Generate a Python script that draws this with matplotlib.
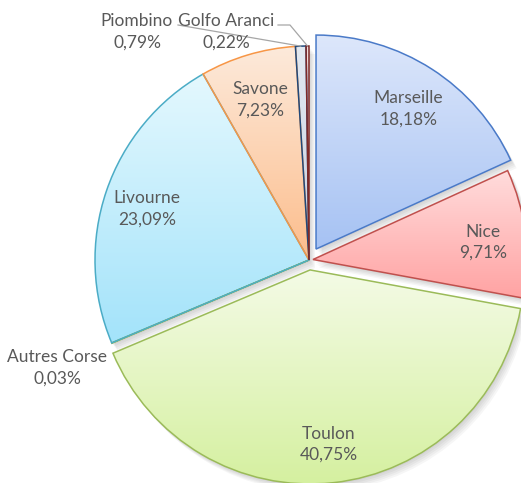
import numpy as np
import matplotlib.pyplot as plt
import matplotlib.patches as mpatches
from matplotlib.colors import LinearSegmentedColormap

# Data
ports = ['Marseille', 'Nice', 'Toulon', 'Autres Corse', 'Livourne', 'Savone', 'Piombino', 'Golfo Aranci']
shares = [18.18, 9.71, 40.75, 0.03, 23.09, 7.23, 0.79, 0.22]
explode = [13, 4, 10, 0, 0, 0, 0, 0]   # pixels

top_colors = ['#dde7fb', '#ffdcdc', '#f4fbe6', '#f4fbe6', '#e4f8fe', '#fdeadb', '#e2e8f0', '#f2dcdb']
bottom_colors = ['#a6c2f3', '#ffa3a3', '#d5f0a0', '#d5f0a0', '#a3e3fa', '#fcbd8c', '#c9d3e2', '#e2b5b3']
edge_colors = ['#4a7ac8', '#c0504d', '#9bbb59', '#9bbb59', '#4bacc6', '#f79646', '#1f497d', '#7f2a28']

W, H = 521, 483
CX, CY, R = 309, H - 260, 214

fig = plt.figure(figsize=(W / 100, H / 100), dpi=100)
ax = fig.add_axes([0, 0, 1, 1])

wedges, _ = ax.pie(shares, startangle=90, counterclock=False, explode=explode,
                   radius=R, center=(CX, CY), wedgeprops=dict(linewidth=1.1))

# soft shadow
for w in wedges:
    for k in range(1, 6):
        sh = mpatches.Wedge((w.center[0] + 1.2 * k, w.center[1] - 1.6 * k), w.r,
                            w.theta1, w.theta2, facecolor='black', edgecolor='none',
                            alpha=0.035, zorder=0)
        ax.add_patch(sh)

# gradient fill clipped to each wedge
grad = np.linspace(0, 1, 256).reshape(-1, 1)
for w, tc, bc, ec in zip(wedges, top_colors, bottom_colors, edge_colors):
    w.set_facecolor('none')
    w.set_edgecolor(ec)
    w.set_zorder(3)
    ext = w.get_path().get_extents()
    cmap = LinearSegmentedColormap.from_list('g', [bc, tc])
    im = ax.imshow(grad, extent=[ext.x0, ext.x1, ext.y0, ext.y1], origin='lower',
                   cmap=cmap, aspect='auto', zorder=2, interpolation='bilinear')
    im.set_clip_path(w)

ax.set_xlim(0, W)
ax.set_ylim(0, H)
ax.set_aspect('equal')
ax.axis('off')

pct = [f'{v:.2f}'.replace('.', ',') + '%' for v in shares]
font = dict(family=['Lato', 'DejaVu Sans'], fontsize=12.5, color='#595959',
            ha='center', va='center', linespacing=1.4, zorder=5)

# inside labels
for i in [0, 1, 2, 4, 5]:
    w = wedges[i]
    a = np.deg2rad((w.theta1 + w.theta2) / 2)
    x = w.center[0] + 0.8 * w.r * np.cos(a)
    y = w.center[1] + 0.8 * w.r * np.sin(a) - 4
    ax.text(x, y, f'{ports[i]}\n{pct[i]}', **font)

# outside labels
ax.text(137, H - 32, f'{ports[6]}\n{pct[6]}', **font)
ax.text(226, H - 32, f'{ports[7]}\n{pct[7]}', **font)
ax.text(57, H - 368, f'{ports[3]}\n{pct[3]}', **font)

# leader lines
lc = dict(color='#a6a6a6', linewidth=0.9, zorder=4)
for i, pts in [(6, [(178, H - 25)]), (7, [(278, H - 25), (290, H - 25)])]:
    w = wedges[i]
    a = np.deg2rad((w.theta1 + w.theta2) / 2)
    end = (w.center[0] + w.r * np.cos(a), w.center[1] + w.r * np.sin(a))
    xs = [p[0] for p in pts] + [end[0]]
    ys = [p[1] for p in pts] + [end[1]]
    ax.plot(xs, ys, **lc)

plt.savefig('out.png', dpi=100)
